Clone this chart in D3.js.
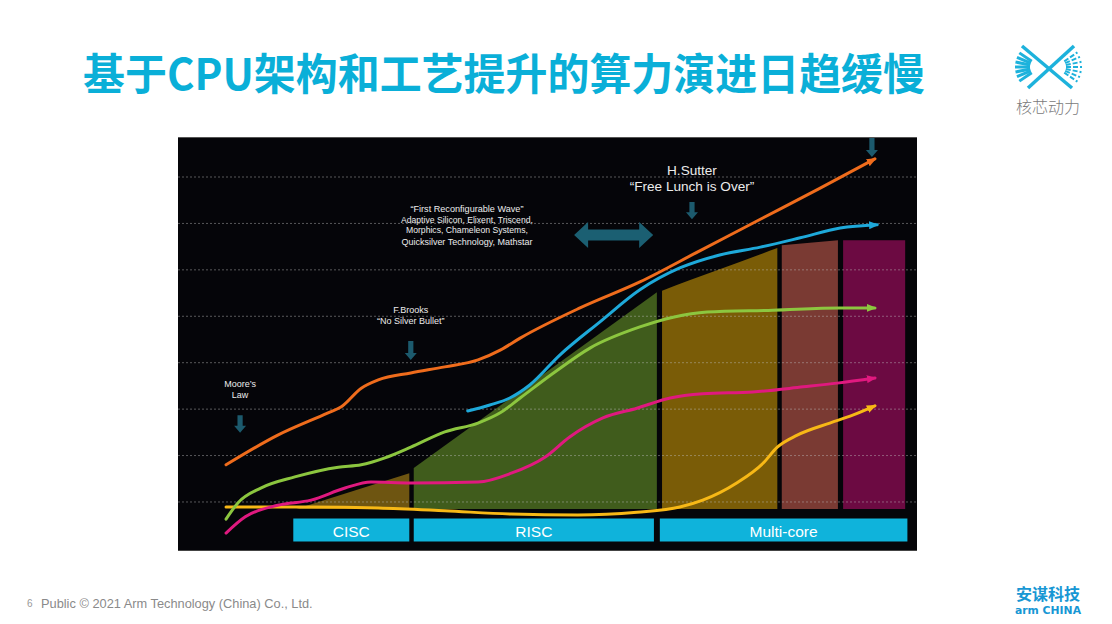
<!DOCTYPE html>
<html><head><meta charset="utf-8">
<script src="https://cdn.jsdelivr.net/npm/d3@7"></script>
<style>html,body{margin:0;padding:0;background:#fff;} svg{display:block}</style>
</head><body>
<svg id="c" width="1112" height="624"></svg>
<script>
// ---------- data ----------
const titleText = "基于CPU架构和工艺提升的算力演进日趋缓慢";
const gridValues = [1, 2, 3, 4, 5, 6, 7, 8];
const eraNames = ["CISC", "RISC", "Multi-core"];
const eraStart = [15.6, 31.9, 65.2];
const eraEnd = [31.3, 64.4, 98.7];
const areaBase = 0.85;
const areaCISC = [[16.0, 0.85], [31.3, 1.62]];
const areaRISC = [[31.9, 1.73], [64.8, 5.52]];
const areaMulti1 = [[65.5, 5.55], [69.3, 5.78], [76.0, 6.17], [81.1, 6.47]];
const areaMulti2 = [[81.7, 6.53], [89.3, 6.64]];
const areaMulti3 = [[90.0, 6.64], [98.4, 6.64]];

const orangeSeries = [[6.5,1.80],[13.5,2.44],[20.3,2.92],[22.1,3.05],[24.8,3.45],[27.1,3.63],[31.5,3.78],[36.1,3.91],[40.6,4.06],[43.6,4.27],[46.3,4.53],[54.4,5.18],[62.5,5.74],[70.6,6.41],[78.8,7.09],[86.9,7.76],[94.3,8.39]];
const blueSeries = [[39.2,2.96],[42.2,3.09],[44.9,3.24],[47.6,3.52],[51.7,4.17],[57.1,4.88],[62.5,5.57],[67.9,6.04],[73.3,6.32],[78.8,6.49],[84.2,6.69],[89.6,6.90],[94.6,6.97]];
const greenSeries = [[6.5,0.63],[8.1,0.98],[11.2,1.30],[15.8,1.54],[21.7,1.75],[24.8,1.80],[28.0,1.95],[31.5,2.18],[36.1,2.51],[40.6,2.70],[43.6,2.92],[46.3,3.24],[51.0,3.80],[55.8,4.32],[62.5,4.77],[67.0,4.98],[71.6,5.09],[80.5,5.13],[89.6,5.18],[94.3,5.18]];
const magentaSeries = [[6.5,0.33],[9.1,0.68],[13.5,0.93],[18.0,1.04],[22.6,1.30],[26.1,1.43],[31.5,1.41],[40.6,1.43],[45.1,1.62],[49.7,1.97],[53.0,2.40],[57.5,2.81],[62.1,3.02],[66.6,3.24],[71.0,3.33],[77.8,3.37],[84.6,3.48],[89.2,3.56],[94.3,3.67]];
const yellowSeries = [[6.5,0.89],[18.0,0.89],[27.1,0.87],[36.1,0.81],[45.1,0.74],[54.1,0.72],[62.1,0.78],[67.9,0.89],[71.0,1.04],[75.6,1.41],[79.2,1.84],[81.1,2.18],[83.8,2.44],[88.2,2.70],[91.3,2.87],[94.3,3.07]];

const moores = ["Moore’s", "Law"];
const brooks = ["F.Brooks", "“No Silver Bullet”"];
const reconf = ["“First Reconfigurable Wave”", "Adaptive Silicon, Elixent, Triscend,", "Morphics, Chameleon Systems,", "Quicksilver Technology, Mathstar"];
const sutter = ["H.Sutter", "“Free Lunch is Over”"];
const footerText = "Public © 2021 Arm Technology (China) Co., Ltd.";
const pageNo = "6";

// ---------- drawing ----------
const svg = d3.select("#c");
const x = d3.scaleLinear().domain([0, 100]).range([178, 917]);
const y = d3.scaleLinear().domain([0, 8]).range([548.4, 177]);

// title
svg.append("text").attr("x", 83).attr("y", 90)
  .attr("font-family", "'Noto Sans CJK SC', sans-serif").attr("font-weight", 700)
  .attr("font-size", 43).attr("fill", "#0aafd8")
  .attr("textLength", 842).attr("lengthAdjust", "spacingAndGlyphs")
  .text(titleText);

// top-right logo
const lg = svg.append("g").attr("transform", "translate(1048,67)").attr("stroke", "#1db2dc").attr("fill", "none");
lg.append("line").attr("x1", -26).attr("y1", -21).attr("x2", 24).attr("y2", 21).attr("stroke-width", 3.5);
lg.append("line").attr("x1", -20).attr("y1", 21).attr("x2", 26).attr("y2", -21).attr("stroke-width", 3.5);
d3.range(-3, 4).forEach(i => {
  const a = Math.PI + i * 0.2;
  lg.append("line")
    .attr("x1", -8 + 10 * Math.cos(a)).attr("y1", 10 * Math.sin(a))
    .attr("x2", -8 + 25 * Math.cos(a)).attr("y2", 25 * Math.sin(a))
    .attr("stroke-width", 3);
  const b = i * 0.2;
  lg.append("line")
    .attr("x1", 8 + 10 * Math.cos(b)).attr("y1", 10 * Math.sin(b))
    .attr("x2", 8 + 26 * Math.cos(b)).attr("y2", 26 * Math.sin(b))
    .attr("stroke-width", 2).attr("stroke-dasharray", "5,2");
});
svg.append("text").attr("x", 1048).attr("y", 113).attr("text-anchor", "middle")
  .attr("font-family", "'Noto Sans CJK SC', sans-serif").attr("font-weight", 300)
  .attr("font-size", 16).attr("fill", "#7a7a7a").text("核芯动力");

// chart box
svg.append("rect").attr("x", x(0)).attr("y", 137.5).attr("width", x(100) - x(0)).attr("height", 413)
  .attr("fill", "#050509");
svg.append("line").attr("x1", x(0)).attr("x2", x(100)).attr("y1", 137.5).attr("y2", 137.5)
  .attr("stroke", "#555").attr("stroke-width", 1);
svg.append("line").attr("x1", x(0)).attr("x2", x(100)).attr("y1", 550.5).attr("y2", 550.5)
  .attr("stroke", "#444").attr("stroke-width", 1);

// era areas
const areaGen = d3.area().x(d => x(d[0])).y0(y(areaBase)).y1(d => y(d[1])).curve(d3.curveMonotoneX);
[[areaCISC, "#6e5511"], [areaRISC, "#405c1c"], [areaMulti1, "#7a5c07"], [areaMulti2, "#7a3a33"], [areaMulti3, "#6c0a42"]]
  .forEach(([d, c]) => svg.append("path").attr("d", areaGen(d)).attr("fill", c));

// grid
svg.append("g").selectAll("line").data(gridValues).join("line")
  .attr("x1", x(0)).attr("x2", x(100)).attr("y1", d => y(d)).attr("y2", d => y(d))
  .attr("stroke", "rgba(190,190,190,0.45)").attr("stroke-width", 1).attr("stroke-dasharray", "2,2");

// markers
const defs = svg.append("defs");
function marker(id, color) {
  defs.append("marker").attr("id", id).attr("viewBox", "0 0 10 8").attr("refX", 8).attr("refY", 4)
    .attr("markerWidth", 10).attr("markerHeight", 8).attr("markerUnits", "userSpaceOnUse").attr("orient", "auto")
    .append("path").attr("d", "M0,0L10,4L0,8Z").attr("fill", color);
}
const lineGen = d3.line().x(d => x(d[0])).y(d => y(d[1])).curve(d3.curveMonotoneX);
const seriesList = [
  ["yellow", yellowSeries, "#f7b816"],
  ["green", greenSeries, "#8cc63f"],
  ["magenta", magentaSeries, "#e0197f"],
  ["blue", blueSeries, "#1ea9da"],
  ["orange", orangeSeries, "#ef6c1c"]
];
seriesList.forEach(([id, d, c]) => {
  marker("m-" + id, c);
  svg.append("path").attr("d", lineGen(d)).attr("fill", "none").attr("stroke", c)
    .attr("stroke-width", 3).attr("stroke-linecap", "round").attr("marker-end", `url(#m-${id})`);
});

// era label bars
const bars = svg.append("g");
eraNames.forEach((n, i) => {
  bars.append("rect").attr("x", x(eraStart[i])).attr("y", 518.5).attr("width", x(eraEnd[i]) - x(eraStart[i]))
    .attr("height", 23).attr("fill", "#0fb3db");
  bars.append("text").attr("x", (x(eraStart[i]) + x(eraEnd[i])) / 2).attr("y", 531)
    .attr("text-anchor", "middle").attr("dominant-baseline", "central")
    .attr("font-family", "'Liberation Sans', Arial, sans-serif").attr("font-size", 15.5).attr("fill", "#ffffff")
    .text(n);
});

// annotation arrows (down)
const arrowColor = "#1c5a6d";
function downArrow(xv, y1v, y2v) {
  const cx = x(xv), t = y(y1v), b = y(y2v), hl = 7;
  const p = d3.path();
  p.moveTo(cx - 2.6, t); p.lineTo(cx + 2.6, t); p.lineTo(cx + 2.6, b - hl); p.lineTo(cx + 6, b - hl);
  p.lineTo(cx, b); p.lineTo(cx - 6, b - hl); p.lineTo(cx - 2.6, b - hl); p.closePath();
  svg.append("path").attr("d", p.toString()).attr("fill", arrowColor);
}
downArrow(8.4, 2.87, 2.49);
downArrow(31.5, 4.47, 4.06);
downArrow(69.55, 7.46, 7.09);
downArrow(93.9, 8.84, 8.43);

// double arrow
(function () {
  const l = x(53.6), r = x(64.3), cy = y(6.75), hl = 14;
  const p = d3.path();
  p.moveTo(l, cy); p.lineTo(l + hl, cy - 13); p.lineTo(l + hl, cy - 5.5); p.lineTo(r - hl, cy - 5.5);
  p.lineTo(r - hl, cy - 13); p.lineTo(r, cy); p.lineTo(r - hl, cy + 13); p.lineTo(r - hl, cy + 5.5);
  p.lineTo(l + hl, cy + 5.5); p.lineTo(l + hl, cy + 13); p.closePath();
  svg.append("path").attr("d", p.toString()).attr("fill", "#1b5f72");
})();

// annotation texts
function lines(arr, xv, yvs, size, lens) {
  arr.forEach((t, i) => {
    const el = svg.append("text").attr("x", x(xv)).attr("y", y(yvs[i])).attr("text-anchor", "middle")
      .attr("dominant-baseline", "central").attr("font-family", "'Liberation Sans', Arial, sans-serif")
      .attr("font-size", size).attr("fill", "#ececec").text(t);
    if (lens) el.attr("textLength", lens[i]).attr("lengthAdjust", "spacingAndGlyphs");
  });
}
lines(moores, 8.4, [3.54, 3.31], 9);
lines(brooks, 31.5, [5.14, 4.90], 9);
lines(reconf, 39.1, [7.30, 7.08, 6.85, 6.61], 9, [113, 132, 122, 131]);
lines(sutter, 69.55, [8.13, 7.79], 13.6);

// footer
svg.append("text").attr("x", 27).attr("y", 607).attr("font-family", "'Liberation Sans', Arial, sans-serif")
  .attr("font-size", 10).attr("fill", "#999").text(pageNo);
svg.append("text").attr("x", 41).attr("y", 607.5).attr("font-family", "'Liberation Sans', Arial, sans-serif")
  .attr("font-size", 12.8).attr("fill", "#8a8a8a").text(footerText);

// bottom-right logo
svg.append("text").attr("x", 1048).attr("y", 600).attr("text-anchor", "middle")
  .attr("font-family", "'Noto Sans CJK SC', sans-serif").attr("font-weight", 700)
  .attr("font-size", 16).attr("fill", "#1797d4").text("安谋科技");
svg.append("text").attr("x", 1048).attr("y", 614).attr("text-anchor", "middle")
  .attr("font-family", "'DejaVu Sans', sans-serif").attr("font-weight", 700)
  .attr("font-size", 10.5).attr("fill", "#1797d4").attr("textLength", 66).attr("lengthAdjust", "spacingAndGlyphs")
  .text("arm CHINA");
</script>
</body></html>
